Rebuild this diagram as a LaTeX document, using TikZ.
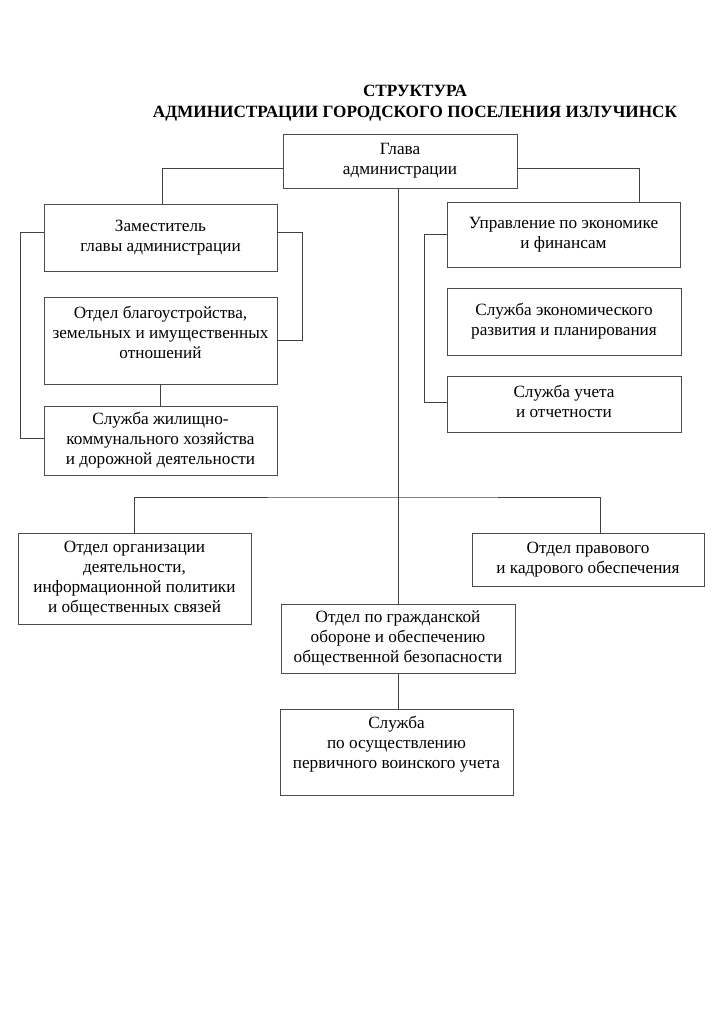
\documentclass[tikz,border=0pt]{standalone}
\usepackage{fontspec}
\setmainfont{Liberation Serif}
\begin{document}
\begin{tikzpicture}[x=1pt,y=-1pt,
  box/.style={draw=black!70,line width=0.9pt,rectangle,inner sep=0pt,align=center,
    font=\fontsize{17.2}{20}\selectfont},
  lbl/.style={inner sep=0pt,align=center,font=\fontsize{17.2}{20}\selectfont},
  ttl/.style={inner sep=0pt,anchor=base,font=\bfseries\fontsize{17.2}{21}\selectfont},
  conn/.style={draw=black!75,line width=0.9pt}]
\useasboundingbox[fill=white] (0,0) rectangle (724,1024);
% title
\node[ttl] (t1) at (415,96.5) {СТРУКТУРА};
\node[ttl] (t2) at (415,117.5) {АДМИНИСТРАЦИИ ГОРОДСКОГО ПОСЕЛЕНИЯ ИЗЛУЧИНСК};
% boxes
\node[box,minimum width=234,minimum height=54] (glava) at (400,161) {Глава\\администрации};
\node[box,minimum width=233,minimum height=67] (zam) at (160.5,237.5) {Заместитель\\главы администрации};
\node[box,minimum width=233,minimum height=87] (blag) at (160.5,340.5) {};
\node[lbl] (blagt) at (160.5,332) {Отдел благоустройства,\\земельных и имущественных\\отношений};
\node[box,minimum width=233,minimum height=69] (zhkh) at (160.5,440.5) {Служба жилищно-\\коммунального хозяйства\\и дорожной деятельности};
\node[box,minimum width=233,minimum height=65] (upr) at (563.5,234.5) {Управление по экономике\\и финансам};
\node[box,minimum width=234,minimum height=67] (ekon) at (564,321.5) {Служба экономического\\развития и планирования};
\node[box,minimum width=234,minimum height=56] (uchet) at (564,404) {};
\node[lbl] (ucheth) at (564,401) {Служба учета\\и отчетности};
\node[box,minimum width=233,minimum height=91] (org) at (134.5,578.5) {Отдел организации\\деятельности,\\информационной политики\\и общественных связей};
\node[box,minimum width=232,minimum height=53] (prav) at (588,559.5) {Отдел правового\\и кадрового обеспечения};
\node[box,minimum width=234,minimum height=69] (go) at (398,638.5) {Отдел по гражданской\\обороне и обеспечению\\общественной безопасности};
\node[box,minimum width=233,minimum height=86] (vu) at (396.5,752) {};
\node[lbl] (vut) at (396.5,744) {Служба\\по осуществлению\\первичного воинского учета};
% connectors
\coordinate (bus) at (398,497);
\draw[conn] ([yshift=-7]glava.west) -| ([xshift=1.5]zam.north);
\draw[conn] ([yshift=-7]glava.east) -| ([xshift=76]upr.north);
\draw[conn] (glava.south -| go.north) -- (go.north);
\draw[conn] (org.north) |- (bus) -| ([xshift=12]prav.north);
\draw[conn] ([yshift=5.5]zam.west) -- ++(-23,0) |- ([yshift=2.5]zhkh.west);
\draw[conn] ([yshift=5.5]zam.east) -- ++(25,0) |- (blag.east);
\draw[conn] (blag.south) -- (zhkh.north);
\draw[conn] (upr.west) -- ++(-22,0) |- ([yshift=2]uchet.west);
\draw[conn] (go.south) -- (go.south |- vu.north);
\end{tikzpicture}
\end{document}
